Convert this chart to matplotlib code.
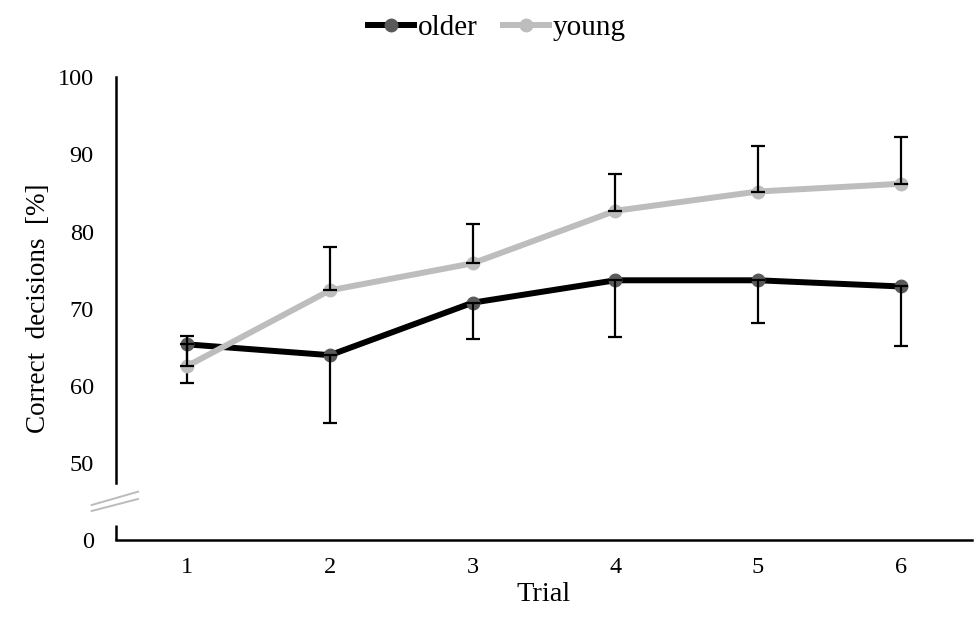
import numpy as np
import matplotlib.pyplot as plt
from matplotlib.lines import Line2D

plt.rcParams['font.family'] = ['Liberation Serif', 'DejaVu Serif']

trials = [1, 2, 3, 4, 5, 6]
older = [65.4, 64.0, 70.8, 73.7, 73.7, 72.9]
older_low = [60.4, 55.2, 66.1, 66.3, 68.2, 65.2]
young = [62.6, 72.4, 75.9, 82.7, 85.2, 86.2]
young_high = [66.5, 78.0, 81.0, 87.5, 91.1, 92.3]
ytick_vals = [50, 60, 70, 80, 90, 100]

# value shown as "0" sits below the axis break
y_zero = 40.06

fig = plt.figure(figsize=(9.74, 6.17), dpi=100)
ax = fig.add_axes([0.119, 0.1248, 0.879, 0.75])

older_err = [np.array(older) - np.array(older_low), np.zeros(len(older))]
young_err = [np.zeros(len(young)), np.array(young_high) - np.array(young)]

lw = 4.3
ms = 9
ax.plot(trials, older, color='black', lw=lw, marker='o', ms=ms,
        mfc='#5a5a5a', mec='#5a5a5a', zorder=3)
ax.errorbar(trials, older, yerr=older_err, fmt='none', ecolor='black',
            elinewidth=1.6, capsize=5, capthick=1.6, zorder=4)
ax.plot(trials, young, color='#bdbdbd', lw=lw, marker='o', ms=ms,
        mfc='#bdbdbd', mec='#bdbdbd', zorder=5)
ax.errorbar(trials, young, yerr=young_err, fmt='none', ecolor='black',
            elinewidth=1.6, capsize=5, capthick=1.6, zorder=6)

ax.set_xlim(0.5, 6.5)
ax.set_ylim(y_zero, 100)
ax.set_xticks(trials)
ax.set_xticklabels([str(t) for t in trials])
ax.set_yticks([y_zero] + ytick_vals)
ax.set_yticklabels(['0'] + [str(v) for v in ytick_vals])
ax.tick_params(axis='y', length=0, pad=16, labelsize=17.5)
ax.tick_params(axis='x', length=0, pad=12, labelsize=17.5)

for s in ['top', 'right']:
    ax.spines[s].set_visible(False)
ax.spines['left'].set_bounds(47.45, 100)
ax.spines['left'].set_linewidth(1.8)
ax.spines['bottom'].set_linewidth(1.8)

# lower piece of the broken y axis
ax.plot([0.5, 0.5], [y_zero, 42.0], color='black', lw=1.8,
        clip_on=False, solid_capstyle='butt')
# break marks
trans = fig.transFigure
for y0, y1 in [(617 - 505, 617 - 491.7), (617 - 511, 617 - 499)]:
    fig.add_artist(Line2D([91.7 / 974, 138 / 974], [y0 / 617, y1 / 617],
                          color='#bbbbbb', lw=1.4, transform=trans))

ax.set_xlabel('Trial', fontsize=20.5, labelpad=3)
ax.set_ylabel('Correct  decisions  [%]', fontsize=19.5, labelpad=5)

handles = [Line2D([], [], color='black', lw=lw, marker='o', ms=ms,
                  mfc='#5a5a5a', mec='#5a5a5a'),
           Line2D([], [], color='#bdbdbd', lw=lw, marker='o', ms=ms,
                  mfc='#bdbdbd', mec='#bdbdbd')]
fig.legend(handles, ['older', 'young'], loc='center', bbox_to_anchor=(0.51, 0.955),
           ncol=2, frameon=False, fontsize=21, handlelength=1.6,
           handletextpad=0.12, columnspacing=0.85)

fig.savefig('out.png', dpi=100)
